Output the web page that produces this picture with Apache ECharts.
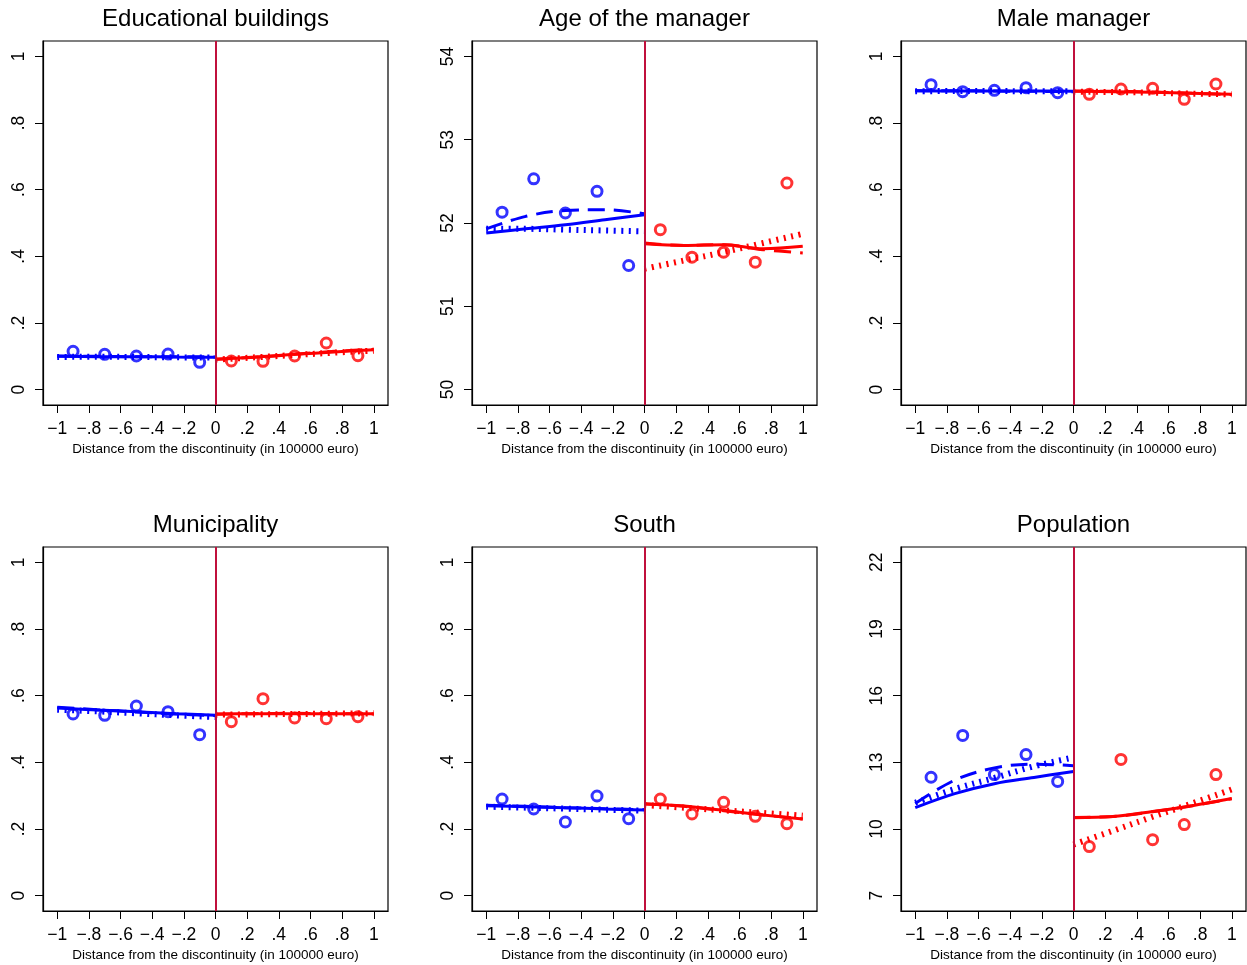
<!DOCTYPE html>
<html>
<head>
<meta charset="utf-8">
<title>Balance checks at the discontinuity</title>
<script src="https://cdn.jsdelivr.net/npm/echarts@6/dist/echarts.min.js"></script>
<style>
  html, body { margin: 0; padding: 0; background: #ffffff; }
  #chart { width: 1247px; height: 965px; }
</style>
</head>
<body>
<div id="chart"></div>
<script>
// ---- bin centres and fit grids (distance from the discontinuity, in 100000 euro)
const binLeft = [-0.9, -0.7, -0.5, -0.3, -0.1];
const binRight = [0.1, 0.3, 0.5, 0.7, 0.9];
const fitLeftX = [-1, -0.75, -0.5, -0.25, 0];
const fitRightX = [0, 0.25, 0.5, 0.75, 1];

// ---- x axis ticks
const xTicks = [-1, -0.8, -0.6, -0.4, -0.2, 0, 0.2, 0.4, 0.6, 0.8, 1];
const xTickLabels = ["\u22121", "\u2212.8", "\u2212.6", "\u2212.4", "\u2212.2", "0", ".2", ".4", ".6", ".8", "1"];

// ---- panel titles
const titles = ["Educational buildings", "Age of the manager", "Male manager",
                "Municipality", "South", "Population"];

// ---- y axis ticks
const shareTicks = [0, 0.2, 0.4, 0.6, 0.8, 1];
const shareTickLabels = ["0", ".2", ".4", ".6", ".8", "1"];
const ageTicks = [50, 51, 52, 53, 54];
const ageTickLabels = ["50", "51", "52", "53", "54"];
const popTicks = [7, 10, 13, 16, 19, 22];
const popTickLabels = ["7", "10", "13", "16", "19", "22"];

// ---- Educational buildings
const eduBinsLeft = [0.115, 0.106, 0.101, 0.107, 0.082];
const eduBinsRight = [0.086, 0.085, 0.101, 0.140, 0.102];
const eduLinLeft = [0.100, 0.099, 0.099, 0.098, 0.097];
const eduQuadLeft = [0.101, 0.100, 0.099, 0.099, 0.098];
const eduCubLeft = [0.098, 0.099, 0.098, 0.097, 0.096];
const eduLinRight = [0.091, 0.098, 0.106, 0.113, 0.120];
const eduQuadRight = [0.091, 0.097, 0.106, 0.115, 0.121];
const eduCubRight = [0.090, 0.097, 0.104, 0.111, 0.117];

// ---- Age of the manager
const ageBinsLeft = [52.13, 52.53, 52.12, 52.38, 51.49];
const ageBinsRight = [51.92, 51.59, 51.65, 51.53, 52.48];
const ageLinLeft = [51.88, 51.93, 51.98, 52.04, 52.10];
const ageQuadLeft = [51.93, 52.08, 52.15, 52.16, 52.11];
const ageCubLeft = [51.93, 51.93, 51.92, 51.91, 51.90];
const ageLinRight = [51.75, 51.73, 51.74, 51.69, 51.72];
const ageQuadRight = [51.76, 51.73, 51.74, 51.68, 51.64];
const ageCubRight = [51.45, 51.55, 51.65, 51.76, 51.87];

// ---- Male manager
const maleBinsLeft = [0.915, 0.894, 0.898, 0.906, 0.891];
const maleBinsRight = [0.886, 0.902, 0.904, 0.871, 0.917];
const maleLinLeft = [0.897, 0.896, 0.896, 0.896, 0.895];
const maleQuadLeft = [0.897, 0.897, 0.896, 0.895, 0.894];
const maleCubLeft = [0.895, 0.896, 0.896, 0.895, 0.895];
const maleLinRight = [0.896, 0.894, 0.892, 0.889, 0.886];
const maleQuadRight = [0.895, 0.895, 0.893, 0.889, 0.885];
const maleCubRight = [0.894, 0.893, 0.891, 0.888, 0.886];

// ---- Municipality
const munBinsLeft = [0.545, 0.541, 0.569, 0.552, 0.483];
const munBinsRight = [0.522, 0.591, 0.533, 0.531, 0.537];
const munLinLeft = [0.563, 0.557, 0.552, 0.546, 0.541];
const munQuadLeft = [0.565, 0.558, 0.551, 0.545, 0.540];
const munCubLeft = [0.558, 0.553, 0.547, 0.541, 0.536];
const munLinRight = [0.545, 0.546, 0.546, 0.546, 0.546];
const munQuadRight = [0.544, 0.546, 0.547, 0.546, 0.545];
const munCubRight = [0.543, 0.544, 0.545, 0.546, 0.547];

// ---- South
const southBinsLeft = [0.290, 0.260, 0.221, 0.299, 0.231];
const southBinsRight = [0.290, 0.245, 0.280, 0.238, 0.216];
const southLinLeft = [0.270, 0.267, 0.264, 0.260, 0.257];
const southQuadLeft = [0.271, 0.268, 0.264, 0.261, 0.258];
const southCubLeft = [0.267, 0.264, 0.261, 0.258, 0.255];
const southLinRight = [0.275, 0.269, 0.256, 0.242, 0.230];
const southQuadRight = [0.276, 0.268, 0.255, 0.242, 0.230];
const southCubRight = [0.272, 0.264, 0.256, 0.248, 0.240];

// ---- Population
const popBinsLeft = [12.33, 14.21, 12.45, 13.35, 12.14];
const popBinsRight = [9.21, 13.13, 9.52, 10.20, 12.45];
const popLinLeft = [10.96, 11.59, 12.04, 12.32, 12.59];
const popQuadLeft = [11.15, 12.20, 12.75, 12.92, 12.85];
const popCubLeft = [11.18, 11.80, 12.30, 12.82, 13.22];
const popLinRight = [10.51, 10.56, 10.79, 11.05, 11.37];
const popQuadRight = [10.52, 10.56, 10.78, 11.05, 11.36];
const popCubRight = [9.30, 9.92, 10.55, 11.15, 11.78];

// ---- panel definitions (values only; styling below)
const panels = [
  { bins: [eduBinsLeft, eduBinsRight], lin: [eduLinLeft, eduLinRight], quad: [eduQuadLeft, eduQuadRight], cub: [eduCubLeft, eduCubRight], ticks: shareTicks, labels: shareTickLabels, range: [-0.046, 1.046] },
  { bins: [ageBinsLeft, ageBinsRight], lin: [ageLinLeft, ageLinRight], quad: [ageQuadLeft, ageQuadRight], cub: [ageCubLeft, ageCubRight], ticks: ageTicks, labels: ageTickLabels, range: [49.815, 54.185] },
  { bins: [maleBinsLeft, maleBinsRight], lin: [maleLinLeft, maleLinRight], quad: [maleQuadLeft, maleQuadRight], cub: [maleCubLeft, maleCubRight], ticks: shareTicks, labels: shareTickLabels, range: [-0.046, 1.046] },
  { bins: [munBinsLeft, munBinsRight], lin: [munLinLeft, munLinRight], quad: [munQuadLeft, munQuadRight], cub: [munCubLeft, munCubRight], ticks: shareTicks, labels: shareTickLabels, range: [-0.046, 1.046] },
  { bins: [southBinsLeft, southBinsRight], lin: [southLinLeft, southLinRight], quad: [southQuadLeft, southQuadRight], cub: [southCubLeft, southCubRight], ticks: shareTicks, labels: shareTickLabels, range: [-0.046, 1.046] },
  { bins: [popBinsLeft, popBinsRight], lin: [popLinLeft, popLinRight], quad: [popQuadLeft, popQuadRight], cub: [popCubLeft, popCubRight], ticks: popTicks, labels: popTickLabels, range: [6.31, 22.69] }
];

// ---- layout
const FONT = '"Liberation Sans", Arial, Helvetica, sans-serif';
const BLUE = '#0000ff';
const RED = '#ff0000';
const CUTOFF = '#c0103c';
const colLeft = [43, 472, 901];
const rowTop = [41, 547];
const boxW = 345;
const boxH = 364;

function pairs(xs, ys) { return xs.map((x, i) => [x, ys[i]]); }
function labelFor(ticks, labels) {
  return function (v) {
    let best = 0;
    for (let i = 1; i < ticks.length; i++) {
      if (Math.abs(ticks[i] - v) < Math.abs(ticks[best] - v)) best = i;
    }
    return labels[best];
  };
}

const grid = [], xAxis = [], yAxis = [], series = [], title = [];

panels.forEach((p, k) => {
  const col = k % 3, row = Math.floor(k / 3);
  grid.push({
    left: colLeft[col], top: rowTop[row], width: boxW, height: boxH,
    show: true, borderColor: '#000', borderWidth: 1.2, backgroundColor: '#fff'
  });
  title.push({
    text: titles[k], left: colLeft[col] + boxW / 2, top: rowTop[row] - 34,
    textAlign: 'center', padding: 0,
    textStyle: { fontFamily: FONT, fontSize: 24, fontWeight: 'normal', color: '#000' }
  });
  xAxis.push({
    type: 'value', gridIndex: k, min: -1.09, max: 1.09,
    name: 'Distance from the discontinuity (in 100000 euro)',
    nameLocation: 'middle', nameGap: 37,
    nameTextStyle: { fontFamily: FONT, fontSize: 13.5, color: '#000' },
    axisLine: { show: true, onZero: false, lineStyle: { color: '#000', width: 1.2 } },
    axisTick: { show: true, length: 8, customValues: xTicks, lineStyle: { color: '#000', width: 1 } },
    axisLabel: { show: true, customValues: xTicks, margin: 15, formatter: labelFor(xTicks, xTickLabels),
                 fontFamily: FONT, fontSize: 17.5, color: '#000' },
    splitLine: { show: false }
  });
  yAxis.push({
    type: 'value', gridIndex: k, min: p.range[0], max: p.range[1],
    axisLine: { show: true, onZero: false, lineStyle: { color: '#000', width: 1.2 } },
    axisTick: { show: true, length: 8, customValues: p.ticks, lineStyle: { color: '#000', width: 1 } },
    axisLabel: { show: true, customValues: p.ticks, rotate: 90, margin: 15, formatter: labelFor(p.ticks, p.labels),
                 fontFamily: FONT, fontSize: 17.5, color: '#000' },
    splitLine: { show: false }
  });

  const sides = [
    { xs: fitLeftX, bx: binLeft, color: BLUE, i: 0 },
    { xs: fitRightX, bx: binRight, color: RED, i: 1 }
  ];
  sides.forEach(s => {
    // cubic fit: dotted
    series.push({
      type: 'line', xAxisIndex: k, yAxisIndex: k, data: pairs(s.xs, p.cub[s.i]),
      smooth: 0.35, symbol: 'none', silent: true, z: 2,
      lineStyle: { color: s.color, width: 6, type: [2, 5.5], cap: 'butt' }
    });
    // quadratic fit: dashed
    series.push({
      type: 'line', xAxisIndex: k, yAxisIndex: k, data: pairs(s.xs, p.quad[s.i]),
      smooth: 0.35, symbol: 'none', silent: true, z: 3,
      lineStyle: { color: s.color, width: 3, type: [17, 9] }
    });
    // linear fit: solid
    series.push({
      type: 'line', xAxisIndex: k, yAxisIndex: k, data: pairs(s.xs, p.lin[s.i]),
      smooth: 0.35, symbol: 'none', silent: true, z: 4,
      lineStyle: { color: s.color, width: 3 }
    });
    // binned means: hollow circles
    series.push({
      type: 'scatter', xAxisIndex: k, yAxisIndex: k, data: pairs(s.bx, p.bins[s.i]),
      symbol: 'circle', symbolSize: 10, z: 5,
      itemStyle: { color: 'rgba(0,0,0,0)', borderColor: s.color, borderWidth: 3 }
    });
  });
  // cutoff line at zero
  series.push({
    type: 'line', xAxisIndex: k, yAxisIndex: k, data: [], z: 1,
    markLine: {
      silent: true, symbol: 'none', label: { show: false },
      lineStyle: { color: CUTOFF, width: 2, type: 'solid' },
      data: [{ xAxis: 0 }]
    }
  });
});

const chart = echarts.init(document.getElementById('chart'), null, { renderer: 'canvas' });
chart.setOption({
  animation: false,
  backgroundColor: '#ffffff',
  title, grid, xAxis, yAxis, series
});
</script>
</body>
</html>
